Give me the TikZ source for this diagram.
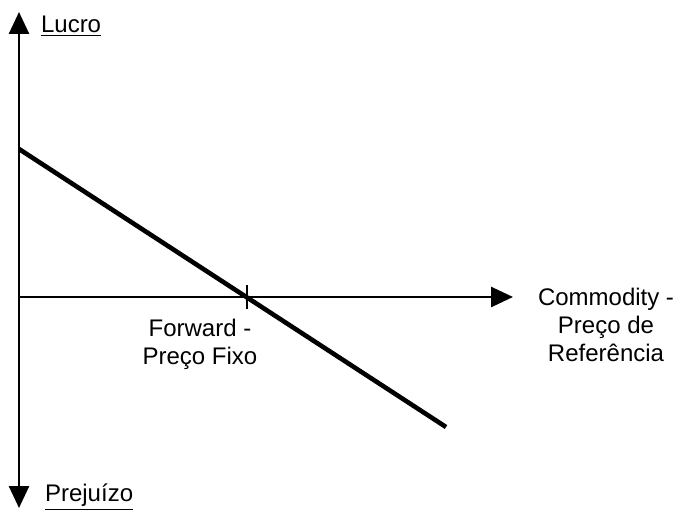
\documentclass[tikz,border=0pt]{standalone}
\usepackage{fontspec}
\setmainfont{Liberation Sans}
\usepackage{tikz}
\usetikzlibrary{arrows.meta,positioning}

\begin{document}
\begin{tikzpicture}[x=0.5pt,y=-0.5pt,
    axis/.style={line width=1.3pt, -{Triangle[length=11pt,width=10pt]}},
    payoff/.style={line width=2.3pt},
    lbl/.style={font=\fontsize{12}{14}\selectfont, align=center}]

  \useasboundingbox (0,0) rectangle (688,513);

  % Axis points
  \coordinate (origin) at (19,297);
  \coordinate (ytop) at (19,12);
  \coordinate (ybot) at (19,508);
  \coordinate (xend) at (513,297);

  % Vertical axis
  \draw[axis] (origin) -- (ytop);
  \draw[axis] (origin) -- (ybot);
  \node[lbl, anchor=west] (lucro) at (34,26) {\underline{Lucro}};
  \node[lbl, anchor=west] (prejuizo) at (38,497) {\underline{Prejuízo}};

  % Horizontal axis
  \draw[axis] (origin) -- (xend);
  \node[lbl] (commodity) at (606,325) {Commodity -\\Preço de\\Referência};

  % Forward payoff
  \coordinate (pstart) at (19,149);
  \coordinate (pend) at (446,427);
  \draw[payoff] (pstart) -- (pend);

  % Fixed price tick
  \coordinate (ktop) at (247,285);
  \coordinate (kbot) at (247,309);
  \draw[line width=1.3pt] (ktop) -- (kbot);
  \node[lbl] (forward) at (200,344) {Forward -\\Preço Fixo};

\end{tikzpicture}
\end{document}
